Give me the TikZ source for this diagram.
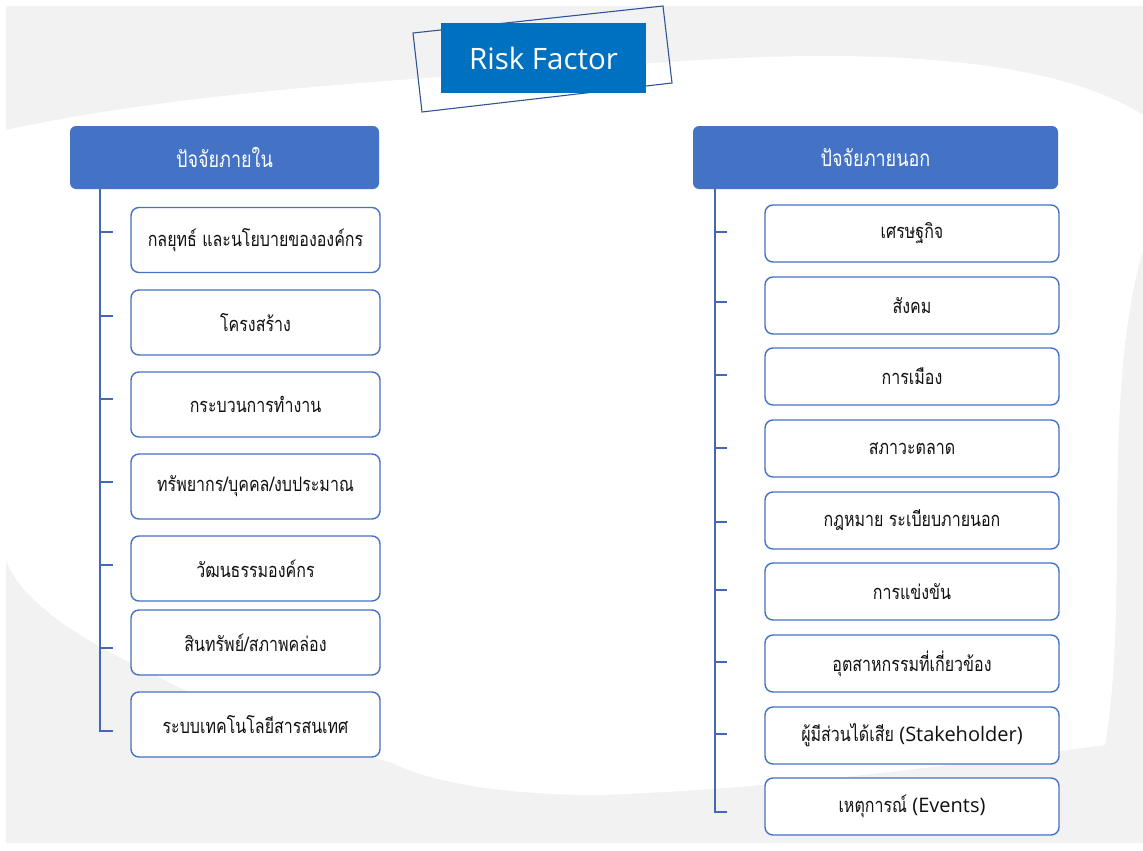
\documentclass[tikz,border=0pt]{standalone}
\usepackage{fontspec}
\newfontfamily\thaifont[Script=Thai,FakeStretch=0.8]{Loma}
\newfontfamily\latinfont{Open Sans}
\definecolor{bggray}{HTML}{F2F2F2}
\definecolor{titleblue}{HTML}{0070C0}
\definecolor{headblue}{HTML}{4472C4}
\definecolor{lineblue}{HTML}{4468B8}
\definecolor{frameblue}{HTML}{2F5597}
\definecolor{txt}{HTML}{111111}
\newcommand{\lat}[1]{{\latinfont\fontsize{20}{24}\selectfont #1}}
\begin{document}
\begin{tikzpicture}[x=1pt,y=-1pt,
  titlebox/.style={fill=titleblue,text=white,minimum width=205pt,minimum height=70pt,inner sep=0pt,font=\latinfont\fontsize{29.5}{32}\selectfont},
  headbox/.style={fill=headblue,text=white,rounded corners=6pt,minimum height=63pt,inner sep=0pt,font=\thaifont\fontsize{22.5}{26}\selectfont},
  itembox/.style={draw=headblue,line width=1.4pt,fill=white,text=txt,rounded corners=8pt,inner sep=0pt,font=\thaifont\fontsize{20}{24}\selectfont},
  litem/.style={itembox,minimum width=249pt,minimum height=65pt},
  ritem/.style={itembox,minimum width=294pt,minimum height=57pt},
  trunk/.style={draw=lineblue,line width=1.6pt},
]
\useasboundingbox (0,0) rectangle (1143,851);
\fill[white] (0,0) rectangle (1143,851);
\fill[bggray] (6,6) rectangle (1143,843);
% white brush background
\fill[white] (6,130) .. controls (200,88) and (430,78) .. (700,60)
  .. controls (900,48) and (1060,62) .. (1143,115)
  -- (1143,250)
  .. controls (1100,400) and (1130,600) .. (1105,745)
  .. controls (900,772) and (750,790) .. (600,795)
  .. controls (500,795) and (430,782) .. (390,762)
  .. controls (280,735) and (200,700) .. (150,672)
  .. controls (80,640) and (20,600) .. (6,560)
  -- cycle;
% title
\draw[frameblue,line width=1.1pt] (413,33) -- (663,6) -- (672,83) -- (422,112) -- cycle;
\node[titlebox] (title) at (543.5,58) {Risk Factor};
% headers
\node[headbox,minimum width=309pt] (LH) at (224.5,157.5) {ปัจจัยภายใน};
\node[headbox,minimum width=365pt] (RH) at (875.5,157.5) {ปัจจัยภายนอก};
% left items
\node[litem] (L1) at (255.5,240) {กลยุทธ์ และนโยบายขององค์กร};
\node[litem] (L2) at (255.5,322.5) {โครงสร้าง};
\node[litem] (L3) at (255.5,404.5) {กระบวนการทำงาน};
\node[litem] (L4) at (255.5,486.5) {ทรัพยากร/บุคคล/งบประมาณ};
\node[litem] (L5) at (255.5,568.5) {วัฒนธรรมองค์กร};
\node[litem] (L6) at (255.5,642.5) {สินทรัพย์/สภาพคล่อง};
\node[litem] (L7) at (255.5,724.5) {ระบบเทคโนโลยีสารสนเทศ};
% right items
\node[ritem] (R1) at (912,233.5) {เศรษฐกิจ};
\node[ritem] (R2) at (912,305.5) {สังคม};
\node[ritem] (R3) at (912,376.5) {การเมือง};
\node[ritem] (R4) at (912,448.5) {สภาวะตลาด};
\node[ritem] (R5) at (912,520.5) {กฎหมาย ระเบียบภายนอก};
\node[ritem] (R6) at (912,591.5) {การแข่งขัน};
\node[ritem] (R7) at (912,663.5) {อุตสาหกรรมที่เกี่ยวข้อง};
\node[ritem] (R8) at (912,735.5) {ผู้มีส่วนได้เสีย \lat{(Stakeholder)}};
\node[ritem] (R9) at (912,806.5) {เหตุการณ์ \lat{(Events)}};
% left trunk
\coordinate (LT) at (100,189);
\coordinate (LB) at (100,731);
\coordinate (LBe) at (113,731);
\draw[trunk] (LT) -- (LB) -- (LBe);
\foreach \y [count=\i] in {232,316,399,482,565,648} {
  \coordinate (Ls\i) at (100,\y);
  \coordinate (Le\i) at (113,\y);
  \draw[trunk] (Ls\i) -- (Le\i);
}
% right trunk
\coordinate (RT) at (715,189);
\coordinate (RB) at (715,812);
\coordinate (RBe) at (727,812);
\draw[trunk] (RT) -- (RB) -- (RBe);
\foreach \y [count=\i] in {232,302,375,448,522,590,662,734} {
  \coordinate (Rs\i) at (715,\y);
  \coordinate (Re\i) at (727,\y);
  \draw[trunk] (Rs\i) -- (Re\i);
}
\end{tikzpicture}
\end{document}
